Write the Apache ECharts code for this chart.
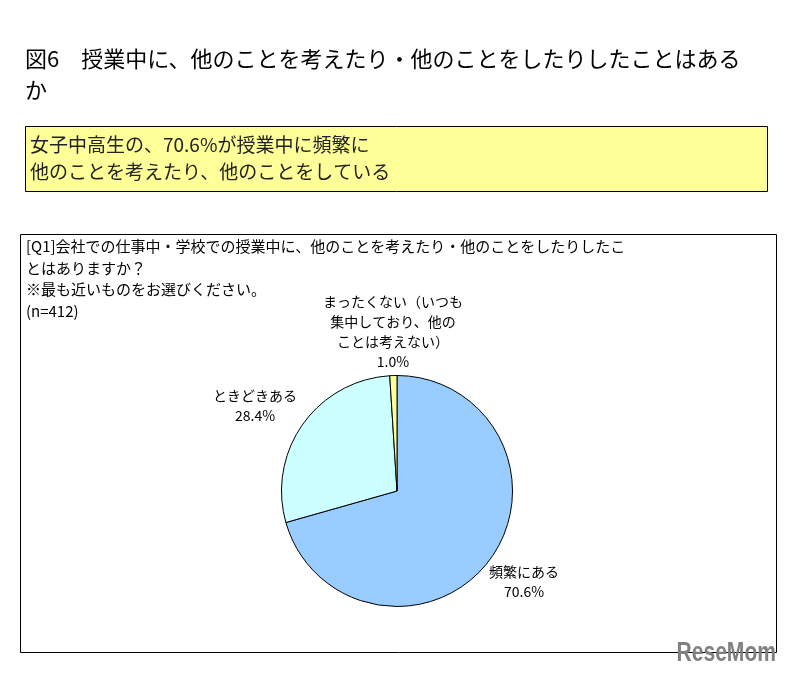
<!DOCTYPE html>
<html><head><meta charset="utf-8">
<script src="https://cdn.jsdelivr.net/npm/echarts@6/dist/echarts.min.js"></script>
<style>html,body{margin:0;padding:0;background:#fff}#c{width:795px;height:674px}</style>
</head><body><div id="c"></div>
<script>
const categories = ['頻繁にある', 'ときどきある', 'まったくない（いつも\n集中しており、他の\nことは考えない）'];
const values = [70.6, 28.4, 1.0];
const colors = ['#99CCFF', '#CCFFFF', '#FFFF99'];
const titleText = '図6　授業中に、他のことを考えたり・他のことをしたりしたことはある\nか';
const boxText = '女子中高生の、70.6%が授業中に頻繁に\n他のことを考えたり、他のことをしている';
const questionText = '[Q1]会社での仕事中・学校での授業中に、他のことを考えたり・他のことをしたりしたこ\nとはありますか？\n※最も近いものをお選びください。\n(n=412)';
const labelPos = [[524, 562], [255, 386], [393, 292]];

const font = '"Noto Sans CJK JP", "Noto Sans", sans-serif';
const chart = echarts.init(document.getElementById('c'));
chart.setOption({
  animation: false,
  graphic: [
    {type: 'text', left: 25, top: 43, style: {text: titleText, font: '22px ' + font, fill: '#000', lineHeight: 31}},
    {type: 'rect', shape: {x: 25.5, y: 126.5, width: 742, height: 65}, style: {fill: '#FFFF99', stroke: '#000', lineWidth: 1}},
    {type: 'text', left: 30, top: 131, z: 10, style: {text: boxText, font: '19px ' + font, fill: '#222', lineHeight: 27}},
    {type: 'rect', shape: {x: 20.5, y: 234.5, width: 756, height: 418}, style: {fill: 'none', stroke: '#000', lineWidth: 1}},
    {type: 'text', left: 26, top: 236, style: {text: questionText, font: '15px ' + font, fill: '#000', lineHeight: 21.5}},
    {type: 'text', x: 776, y: 667, scaleX: 0.78, scaleY: 1, z: 20, style: {x: 0, y: 0, text: 'ReseMom', align: 'right', verticalAlign: 'bottom', font: 'bold 27px "Liberation Sans", Arial, sans-serif', fill: '#808080'}}
  ],
  series: [{
    type: 'pie',
    center: [397, 491],
    radius: 115.5,
    startAngle: 90,
    clockwise: true,
    itemStyle: {borderColor: '#000', borderWidth: 1},
    label: {
      show: true,
      position: 'outside',
      formatter: p => p.name + '\n' + p.value.toFixed(1) + '%',
      fontFamily: font,
      fontSize: 14,
      lineHeight: 20,
      color: '#000',
      align: 'center'
    },
    labelLine: {show: false},
    labelLayout: p => ({x: labelPos[p.dataIndex][0], y: labelPos[p.dataIndex][1], align: 'center', verticalAlign: 'top'}),
    data: categories.map((c, i) => ({name: c, value: values[i], itemStyle: {color: colors[i]}}))
  }]
});
</script></body></html>
